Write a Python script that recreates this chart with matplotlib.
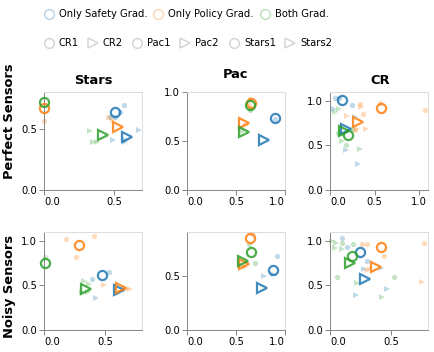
import numpy as np
import matplotlib.pyplot as plt

# gradient type -> colour, env version -> marker
grad_names = ["Only Safety Grad.", "Only Policy Grad.", "Both Grad."]
grad_colors = ["#1f77b4", "#ff7f0e", "#2ca02c"]
version_names = ["CR1", "CR2", "Pac1", "Pac2", "Stars1", "Stars2"]
version_markers = {1: "o", 2: ">"}

envs = ["Stars", "Pac", "CR"]
sensors = ["Perfect Sensors", "Noisy Sensors"]

# entries: (grad index, env version, x, y)
stars_perfect_mean = [(0, 1, 0.51, 0.64), (1, 1, 0.0, 0.67), (2, 1, 0.0, 0.72),
                      (0, 2, 0.595, 0.435), (1, 2, 0.525, 0.515), (2, 2, 0.42, 0.45)]
stars_perfect_runs = [(1, 1, 0.0, 0.565), (0, 1, 0.47, 0.60), (0, 1, 0.505, 0.60),
                      (0, 1, 0.545, 0.64), (0, 1, 0.57, 0.69), (1, 1, 0.46, 0.60),
                      (1, 2, 0.495, 0.57), (0, 2, 0.675, 0.49), (0, 2, 0.495, 0.41),
                      (0, 2, 0.58, 0.39), (0, 2, 0.585, 0.41), (2, 2, 0.33, 0.48),
                      (2, 2, 0.35, 0.395), (2, 2, 0.38, 0.395)]

pac_perfect_mean = [(0, 1, 0.895, 0.73), (1, 1, 0.653, 0.885), (2, 1, 0.646, 0.865),
                    (0, 2, 0.79, 0.515), (1, 2, 0.585, 0.68), (2, 2, 0.578, 0.595)]
pac_perfect_runs = [(1, 1, 0.64, 0.93), (2, 1, 0.645, 0.815), (1, 1, 0.63, 0.87),
                    (0, 1, 0.9, 0.72), (1, 2, 0.6, 0.66), (2, 2, 0.57, 0.6)]

cr_perfect_mean = [(0, 1, 0.135, 1.005), (1, 1, 0.57, 0.92), (2, 1, 0.205, 0.62),
                   (0, 2, 0.18, 0.68), (1, 2, 0.31, 0.765), (2, 2, 0.155, 0.66)]
cr_perfect_runs = [(0, 1, 0.06, 1.03), (0, 1, 0.1, 1.03), (0, 1, 0.25, 0.955),
                   (0, 2, 0.175, 0.445), (0, 2, 0.31, 0.295), (0, 2, 0.28, 0.82),
                   (0, 2, 0.04, 0.91), (2, 2, 0.06, 0.88), (2, 2, 0.1, 0.91),
                   (2, 2, 0.135, 0.555), (2, 2, 0.335, 0.465), (2, 1, 0.09, 0.645),
                   (2, 1, 0.25, 0.685), (2, 1, 0.18, 0.5), (1, 1, 0.565, 0.98),
                   (1, 1, 1.065, 0.895), (1, 1, 0.335, 0.965), (1, 1, 0.37, 0.85),
                   (1, 1, 0.28, 0.67), (1, 2, 0.19, 0.835), (1, 2, 0.35, 0.93),
                   (1, 2, 0.405, 0.68), (1, 2, 0.3, 0.69)]

stars_noisy_mean = [(0, 1, 0.47, 0.62), (1, 1, 0.285, 0.95), (2, 1, 0.012, 0.75),
                    (0, 2, 0.61, 0.452), (1, 2, 0.625, 0.472), (2, 2, 0.34, 0.465)]
stars_noisy_runs = [(1, 1, 0.183, 1.02), (1, 1, 0.41, 1.05), (1, 1, 0.263, 0.82),
                    (2, 1, 0.01, 0.82), (0, 1, 0.39, 0.575), (0, 1, 0.53, 0.65),
                    (1, 2, 0.49, 0.5), (1, 2, 0.705, 0.46), (1, 2, 0.68, 0.465),
                    (0, 2, 0.425, 0.36), (0, 2, 0.655, 0.47), (2, 2, 0.33, 0.555),
                    (2, 2, 0.37, 0.52), (2, 2, 0.31, 0.425), (2, 2, 0.36, 0.43)]

pac_noisy_mean = [(0, 1, 0.876, 0.55), (1, 1, 0.646, 0.845), (2, 1, 0.657, 0.718),
                  (0, 2, 0.768, 0.39), (1, 2, 0.578, 0.605), (2, 2, 0.572, 0.632)]
pac_noisy_runs = [(1, 1, 0.66, 0.88), (2, 1, 0.633, 0.786), (2, 1, 0.69, 0.612),
                  (0, 1, 0.916, 0.68), (0, 2, 0.79, 0.495), (0, 2, 0.875, 0.515),
                  (1, 2, 0.59, 0.58), (1, 2, 0.57, 0.6)]

cr_noisy_mean = [(0, 1, 0.242, 0.87), (1, 1, 0.417, 0.937), (2, 1, 0.183, 0.833),
                 (0, 2, 0.282, 0.567), (1, 2, 0.379, 0.711), (2, 2, 0.164, 0.748)]
cr_noisy_runs = [(0, 1, 0.1, 1.03), (0, 1, 0.14, 0.937), (0, 1, 0.3, 0.78),
                 (2, 2, 0.013, 1.0), (2, 2, 0.05, 0.98), (2, 2, 0.04, 0.92),
                 (2, 2, 0.1, 0.91), (2, 2, 0.22, 0.53), (2, 2, 0.425, 0.37),
                 (2, 1, 0.1, 0.98), (2, 1, 0.19, 0.96), (2, 1, 0.06, 0.6),
                 (2, 1, 0.52, 0.593), (1, 1, 0.26, 0.96), (1, 1, 0.3, 0.96),
                 (1, 1, 0.44, 0.833), (1, 1, 0.77, 0.975), (1, 2, 0.3, 0.67),
                 (1, 2, 0.33, 0.69), (1, 2, 0.75, 0.537), (0, 2, 0.21, 0.39),
                 (0, 2, 0.465, 0.456), (0, 2, 0.28, 0.69), (0, 2, 0.42, 0.7)]

means_grid = [[stars_perfect_mean, pac_perfect_mean, cr_perfect_mean],
              [stars_noisy_mean, pac_noisy_mean, cr_noisy_mean]]
runs_grid = [[stars_perfect_runs, pac_perfect_runs, cr_perfect_runs],
             [stars_noisy_runs, pac_noisy_runs, cr_noisy_runs]]
x_max = [[0.7, 1.0, 1.1], [0.8, 1.0, 0.8]]
y_max = [[0.8, 1.0, 1.1], [1.1, 0.9, 1.1]]

W, H = 435, 352
fig = plt.figure(figsize=(W / 100, H / 100), dpi=100)

col_left = [44, 187, 330]
row_top = [92, 232]
pw, ph = 98, 98
title_pos = [(93, 81), (236, 75), (380, 81)]
row_label_y = [121, 286]

for r in range(2):
    for c in range(3):
        ax = fig.add_axes([col_left[c] / W, 1 - (row_top[r] + ph) / H, pw / W, ph / H])
        for g, v, x, y in runs_grid[r][c]:
            ax.plot(x, y, version_markers[v], ms=3.8, color=grad_colors[g],
                    alpha=0.28, mew=0, clip_on=False, zorder=2)
        for g, v, x, y in means_grid[r][c]:
            ax.plot(x, y, version_markers[v], ms=6.6 if v == 1 else 7.4,
                    mfc='none', mec=grad_colors[g], mew=1.6, alpha=0.85,
                    clip_on=False, zorder=3)
        ax.set_xlim(0, x_max[r][c])
        ax.set_ylim(0, y_max[r][c])
        xt = np.arange(0, x_max[r][c] + 1e-9, 0.5)
        yt = np.arange(0, y_max[r][c] + 1e-9, 0.5)
        ax.set_xticks(xt)
        ax.set_yticks(yt, ["%.1f" % t for t in yt])
        for s in ['top', 'right']:
            ax.spines[s].set_color('#dddddd')
            ax.spines[s].set_linewidth(0.72)
        for s in ['left', 'bottom']:
            ax.spines[s].set_color('#888888')
            ax.spines[s].set_linewidth(0.72)
        ax.tick_params(length=3.6, width=0.72, color='#888888', labelsize=7.2, pad=1.5,
                       labelbottom=False)
        # x labels flush at the ends, like vega
        for i, t in enumerate(xt):
            ha = 'center'
            if i == 0:
                ha = 'left'
            elif abs(t - x_max[r][c]) < 1e-6:
                ha = 'right'
            ax.annotate("%.1f" % t, xy=(t, 0), xycoords=ax.get_xaxis_transform(),
                        xytext=(0, -7), textcoords='offset pixels',
                        ha=ha, va='top', fontsize=7.2)
        if r == 0:
            tx, ty = title_pos[c]
            fig.text(tx / W, 1 - ty / H, envs[c], ha='center', va='center',
                     fontsize=9.4, fontweight='bold')
    fig.text(10 / W, 1 - row_label_y[r] / H, sensors[r], rotation=90,
             ha='center', va='center', fontsize=9.4, fontweight='bold')

# legend drawn in pixel space
lg = fig.add_axes([0, 0, 1, 1], zorder=-1)
lg.set_xlim(0, W)
lg.set_ylim(H, 0)
lg.axis('off')
leg1_x = [49, 158, 265]
for i, name in enumerate(grad_names):
    lg.plot(leg1_x[i], 14, 'o', ms=7, mfc='none', mec=grad_colors[i], mew=1.1, alpha=0.3)
    lg.text(leg1_x[i] + 10, 14, name, va='center', ha='left', fontsize=7.2)
leg2_x = [49, 93, 137, 185, 234, 290]
for i, name in enumerate(version_names):
    m = 'o' if i % 2 == 0 else '>'
    lg.plot(leg2_x[i], 43, m, ms=7 if m == 'o' else 7.5, mfc='none', mec='#bbbbbb',
            mew=1.1, alpha=0.6)
    lg.text(leg2_x[i] + 10, 43, name, va='center', ha='left', fontsize=7.2)

fig.savefig("out.png", dpi=100)
